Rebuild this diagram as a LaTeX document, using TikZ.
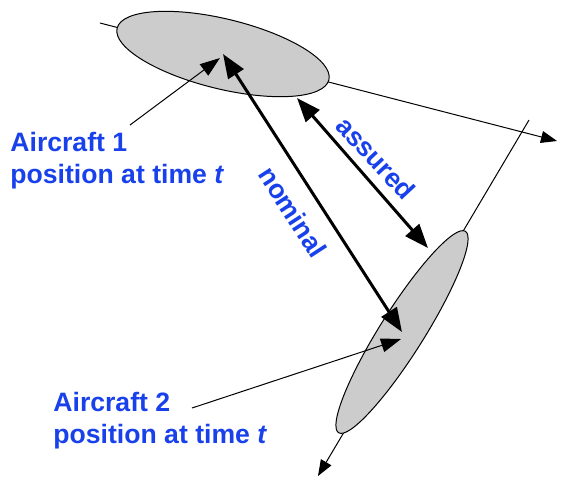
\documentclass[tikz,border=0pt]{standalone}
\usepackage{fontspec}
\setmainfont{Liberation Sans}
\usepackage{xcolor}
\definecolor{acBlue}{RGB}{ 25,  65, 235}
\definecolor{acFill}{RGB}{204, 204, 204}
\definecolor{acInk} {RGB}{  0,   0,   0}
\usepackage{tikz}
\usetikzlibrary{
  arrows.meta,
  shapes.geometric,
}

\begin{document}
\begin{tikzpicture}[
  x=0.5pt, y=-0.5pt,
  zone/.style  ={ellipse, draw=acInk, line width=0.5pt, fill=acFill,
                 inner sep=0pt},
  axis/.style  ={-{Triangle[length=8pt, width=6pt]}, line width=0.5pt,
                 color=acInk},
  leader/.style={-{Triangle[length=10pt, width=7pt]}, line width=0.5pt,
                 color=acInk},
  sep/.style   ={{Triangle[length=12pt, width=9pt]}-{Triangle[length=12pt, width=9pt]},
                 line width=1.5pt, color=acInk},
  lbl/.style   ={font=\fontsize{13.3}{16}\selectfont\bfseries, text=acBlue,
                 inner sep=0pt},
]
  \useasboundingbox (0,0) rectangle (563,479);

  % Direction of travel through each protected zone
  \coordinate (ax1s) at (100, 23);
  \coordinate (ax1e) at (557,141);
  \coordinate (ax2s) at (529,120);
  \coordinate (ax2e) at (318,476);
  \draw[axis] (ax1s) -- (ax1e);
  \draw[axis] (ax2s) -- (ax2e);

  % Position uncertainty zones
  \node[zone, minimum width=109pt, minimum height=35pt, rotate=-13.7]
    (e1) at (223, 54) {};
  \node[zone, minimum width=119pt, minimum height=22pt, rotate=57.8]
    (e2) at (402,332) {};

  % Separations
  \coordinate (as1) at (297, 98);
  \coordinate (as2) at (428,248);
  \draw[sep] (e1.center) -- (e2.center);
  \draw[sep] (as1) -- (as2);
  \node[lbl, rotate=-57] (nom) at (293,212) {nominal};
  \node[lbl, rotate=-47] (asr) at (376,158) {assured};

  % Labels with leaders
  \node[lbl, align=left, anchor=north west] (lbl1) at (10,132)
    {Aircraft 1\\position at time \textit{t}};
  \node[lbl, align=left, anchor=north west] (lbl2) at (53,392)
    {Aircraft 2\\position at time \textit{t}};
  \coordinate (ld1) at (130,125);
  \coordinate (ld2) at (192,408);
  \draw[leader] (ld1) -- ([shift={(-3,4)}]e1.center);
  \draw[leader] (ld2) -- ([shift={(-1,7)}]e2.center);
\end{tikzpicture}
\end{document}
